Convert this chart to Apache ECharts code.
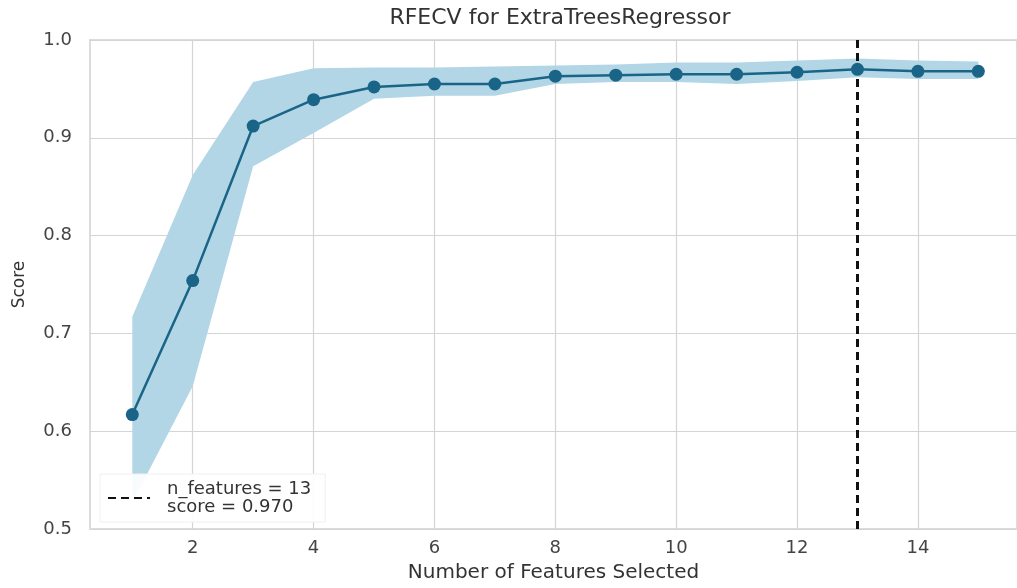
<!DOCTYPE html>
<html>
<head>
<meta charset="utf-8">
<script src="https://cdn.jsdelivr.net/npm/echarts@6/dist/echarts.min.js"></script>
<style>
  html, body { margin: 0; padding: 0; background: #fff; }
  #main { width: 1017px; height: 588px; }
</style>
</head>
<body>
<div id="main"></div>
<script>
var nFeatures = [1, 2, 3, 4, 5, 6, 7, 8, 9, 10, 11, 12, 13, 14, 15];
var scoreMean = [0.617, 0.754, 0.912, 0.939, 0.952, 0.955, 0.955, 0.963, 0.964, 0.965, 0.965, 0.967, 0.970, 0.968, 0.968];
var scoreUpper = [0.717, 0.862, 0.957, 0.971, 0.972, 0.972, 0.973, 0.974, 0.975, 0.977, 0.977, 0.979, 0.981, 0.979, 0.978];
var scoreLower = [0.527, 0.646, 0.871, 0.905, 0.940, 0.943, 0.943, 0.955, 0.957, 0.957, 0.955, 0.958, 0.962, 0.960, 0.960];
var xTicks = [2, 4, 6, 8, 10, 12, 14];
var bestK = 13;
var bestScore = 0.970;

var lineColor = '#1a6587';
var bandColor = '#b2d6e6';
var font = 'DejaVu Sans';

var initChart = function () {
    var myChart = echarts.init(document.getElementById('main'));

    var meanData = nFeatures.map(function (k, i) { return [k, scoreMean[i]]; });
    var bandData = nFeatures.map(function (k, i) { return [k, scoreLower[i], scoreUpper[i]]; });
    var legendName = 'n_features = ' + bestK + '\nscore = ' + bestScore.toFixed(3);

    // whole band drawn once, upper edge forward then lower edge back
    var renderBand = function (params, api) {
        if (params.dataIndex !== 0) return;
        var pts = [];
        for (var i = 0; i < nFeatures.length; i++) {
            pts.push(api.coord([nFeatures[i], scoreUpper[i]]));
        }
        for (var j = nFeatures.length - 1; j >= 0; j--) {
            pts.push(api.coord([nFeatures[j], scoreLower[j]]));
        }
        return {
            type: 'polygon',
            shape: { points: pts },
            style: { fill: bandColor }
        };
    };

    var option = {
        animation: false,
        title: {
            text: 'RFECV for ExtraTreesRegressor',
            left: 555,
            textAlign: 'center',
            top: 2,
            textStyle: { fontFamily: font, fontSize: 22, fontWeight: 'normal', color: '#333' }
        },
        grid: {
            left: 90,
            top: 40,
            right: 0,
            bottom: 57,
            show: true,
            borderColor: '#dcdcdc',
            borderWidth: 2
        },
        legend: {
            data: [legendName],
            left: 100,
            top: 474,
            orient: 'vertical',
            itemWidth: 42,
            itemHeight: 14,
            itemGap: 0,
            padding: [6, 14, 6, 7],
            backgroundColor: 'rgba(255,255,255,0.92)',
            borderColor: '#f0f0f0',
            borderWidth: 1,
            itemStyle: { color: 'rgba(0,0,0,0)', borderWidth: 0 },
            textStyle: { fontFamily: font, fontSize: 18, color: '#333', lineHeight: 18, padding: [0, 0, 0, 12] }
        },
        xAxis: {
            type: 'value',
            min: 0.3,
            max: 15.64,
            name: 'Number of Features Selected',
            nameLocation: 'middle',
            nameGap: 34,
            nameTextStyle: { fontFamily: font, fontSize: 20, color: '#333' },
            axisLine: { show: false },
            axisTick: { show: false, customValues: xTicks },
            axisLabel: {
                customValues: xTicks,
                fontFamily: font, fontSize: 18, color: '#444', margin: 10
            },
            splitLine: { show: true, lineStyle: { color: '#d4d4d4', width: 1.2 } }
        },
        yAxis: {
            type: 'value',
            min: 0.5,
            max: 1.0,
            interval: 0.1,
            name: 'Score',
            nameLocation: 'middle',
            nameGap: 62,
            nameTextStyle: { fontFamily: font, fontSize: 17, color: '#333' },
            axisLine: { show: false },
            axisTick: { show: false },
            axisLabel: {
                fontFamily: font, fontSize: 18, color: '#444', margin: 18,
                formatter: function (v) { return v.toFixed(1); }
            },
            splitLine: { show: true, lineStyle: { color: '#d4d4d4', width: 1.2 } }
        },
        series: [
            {
                name: 'band',
                type: 'custom',
                renderItem: renderBand,
                data: bandData,
                clip: true,
                silent: true,
                z: 1
            },
            {
                name: 'mean',
                type: 'line',
                data: meanData,
                symbol: 'circle',
                symbolSize: 13,
                itemStyle: { color: lineColor },
                lineStyle: { color: lineColor, width: 2.5 },
                z: 5
            },
            {
                name: legendName,
                type: 'line',
                data: [],
                symbol: 'none',
                itemStyle: { color: 'rgba(0,0,0,0)', borderWidth: 0 },
                lineStyle: { color: '#111', width: 3, type: [8, 5] },
                markLine: {
                    symbol: 'none',
                    silent: true,
                    label: { show: false },
                    lineStyle: { color: '#111', width: 3, type: [8, 5] },
                    data: [{ xAxis: bestK }]
                },
                z: 6
            }
        ]
    };
    myChart.setOption(option);
};

initChart();
</script>
</body>
</html>
